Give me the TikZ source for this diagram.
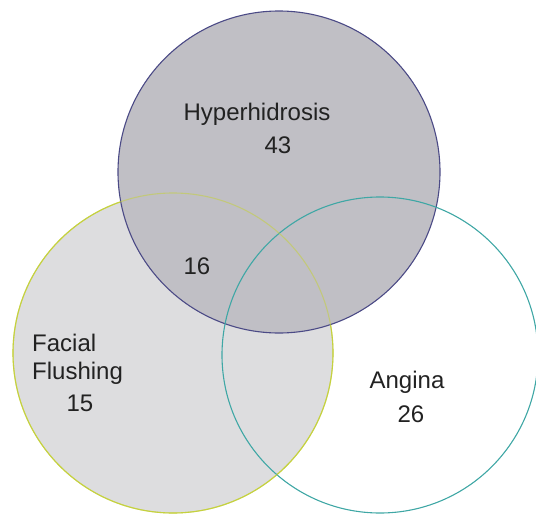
\documentclass[tikz,border=0pt]{standalone}
\usepackage{fontspec}
\setmainfont{Liberation Sans}
\usepackage{tikz}
\usetikzlibrary{positioning}
\definecolor{hyperfill}{HTML}{C0BFC5}
\definecolor{hyperline}{HTML}{4B4A86}
\definecolor{flushfill}{HTML}{DDDDDF}
\definecolor{flushline}{HTML}{C5D13F}
\definecolor{anginaline}{HTML}{3FA7A5}
\definecolor{labeltext}{HTML}{222222}
\tikzset{
  setcircle/.style={draw, circle, inner sep=0pt, outer sep=0pt, line width=1.1pt},
  setlabel/.style={inner sep=0pt, font=\fontsize{24}{30}\selectfont, text=labeltext, align=center},
  setlabelleft/.style={setlabel, anchor=west, align=left}
}

\begin{document}
\begin{tikzpicture}[x=1pt, y=-1pt]
  \useasboundingbox (0,0) rectangle (536,514);
  \node[setcircle, minimum size=320pt, fill=flushfill, draw=flushline] (flush) at (173,353) {};
  \node[setcircle, minimum size=322pt, fill=hyperfill, draw=hyperline] (hyper) at (279,172) {};
  \node[setcircle, minimum size=316pt, draw=anginaline] (angina) at (380,355) {};
  \draw[flushline, line width=1.1pt, opacity=0.55] (flush.center) circle[radius=160];
  \node[setlabel] (hypername) at (257,114) {Hyperhidrosis};
  \node[setlabel] (hypercount) at (278,145) {43};
  \node[setlabel] (bothcount) at (197,266) {16};
  \node[setlabelleft] (flushname) at (32,343) {Facial};
  \node[setlabelleft] (flushname2) at (32,373) {Flushing};
  \node[setlabel] (flushcount) at (80,403) {15};
  \node[setlabel] (anginaname) at (407,382) {Angina};
  \node[setlabel] (anginacount) at (411,414) {26};
\end{tikzpicture}
\end{document}
